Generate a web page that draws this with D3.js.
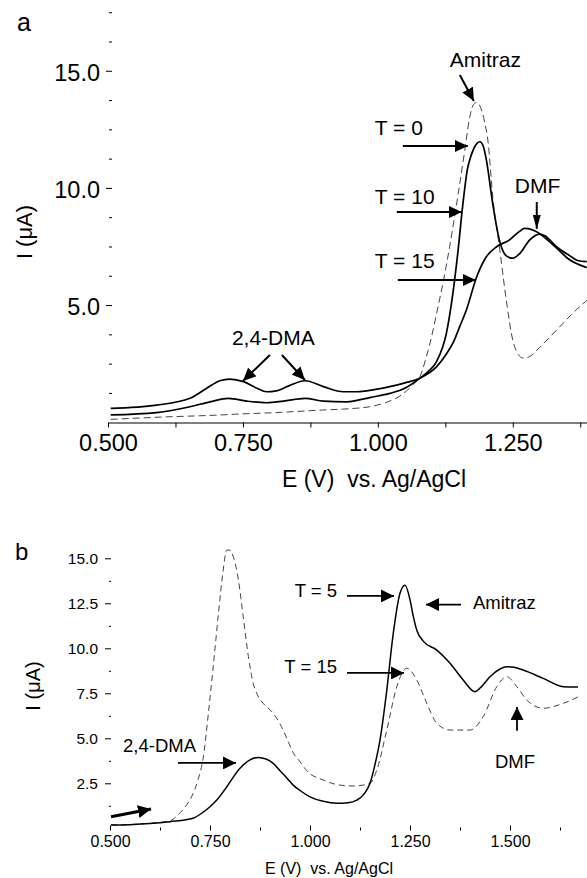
<!DOCTYPE html>
<html>
<head>
<meta charset="utf-8">
<script src="https://cdn.jsdelivr.net/npm/d3@7"></script>
<style>
  html, body { margin: 0; padding: 0; background: #fff; }
  svg { display: block; font-family: "Liberation Sans", Arial, Helvetica, sans-serif; }
</style>
</head>
<body>
<svg id="chart" width="587" height="878"></svg>
<script>
// ---------- Panel a: voltammograms at T = 0, 10, 15 (E in V, I in µA) ----------
const aT0 = [ // dashed
  [0.505,0.12],[0.60,0.22],[0.70,0.30],[0.744,0.35],[0.80,0.40],[0.898,0.52],[0.95,0.58],
  [0.985,0.66],[1.016,0.85],[1.046,1.2],[1.065,1.6],[1.078,1.95],[1.09,2.8],[1.10,3.7],
  [1.109,4.66],[1.122,6.1],[1.133,7.49],[1.148,9.62],[1.161,11.6],[1.170,13.0],[1.177,13.55],
  [1.183,13.65],[1.190,13.45],[1.197,12.9],[1.204,12.0],[1.213,9.6],[1.226,7.35],[1.238,5.2],
  [1.250,3.5],[1.260,2.9],[1.269,2.74],[1.281,2.8],[1.300,3.2],[1.331,3.93],[1.361,4.65],[1.387,5.2]
];
const aT10 = [
  [0.505,0.31],[0.59,0.41],[0.652,0.66],[0.689,0.87],[0.723,1.02],[0.757,0.90],[0.794,0.83],
  [0.825,0.90],[0.865,1.02],[0.899,0.90],[0.942,0.87],[0.961,0.93],[0.985,1.05],[1.022,1.23],
  [1.05,1.45],[1.078,1.88],[1.095,2.2],[1.109,2.6],[1.127,3.8],[1.139,5.5],[1.148,7.2],
  [1.157,9.2],[1.166,10.8],[1.173,11.4],[1.182,11.85],[1.189,11.97],[1.195,11.8],[1.201,11.2],
  [1.213,9.3],[1.226,7.7],[1.238,7.1],[1.250,7.0],[1.263,7.2],[1.281,7.77],[1.300,8.03],
  [1.310,7.95],[1.331,7.49],[1.356,7.1],[1.370,6.9],[1.387,6.85]
];
const aT15 = [
  [0.505,0.59],[0.59,0.73],[0.652,1.02],[0.683,1.45],[0.707,1.77],[0.726,1.84],[0.751,1.73],
  [0.776,1.45],[0.794,1.30],[0.812,1.34],[0.835,1.55],[0.865,1.77],[0.899,1.52],[0.936,1.30],
  [0.961,1.30],[0.979,1.34],[1.022,1.52],[1.05,1.68],[1.078,1.88],[1.109,2.37],[1.125,2.85],
  [1.139,3.37],[1.152,4.1],[1.164,4.79],[1.183,6.2],[1.201,7.06],[1.220,7.49],[1.244,7.78],
  [1.260,8.1],[1.272,8.27],[1.285,8.22],[1.294,8.13],[1.325,7.56],[1.356,6.92],[1.387,6.6]
];

// ---------- Panel b: voltammograms at T = 5 and T = 15 ----------
const bT5 = [ // solid
  [0.5025,0.18],[0.55,0.2],[0.6,0.26],[0.65,0.37],[0.708,0.56],[0.73,0.85],[0.75,1.2],
  [0.767,1.57],[0.792,2.31],[0.81,2.9],[0.825,3.33],[0.85,3.8],[0.871,3.94],[0.89,3.85],
  [0.908,3.61],[0.925,3.2],[0.942,2.8],[0.958,2.4],[0.975,2.1],[1.0,1.75],[1.033,1.5],
  [1.067,1.39],[1.095,1.42],[1.117,1.57],[1.135,1.9],[1.15,2.5],[1.162,3.5],[1.175,4.9],
  [1.192,7.68],[1.208,10.8],[1.225,13.06],[1.2375,13.5],[1.25,12.7],[1.258,11.8],[1.267,11.0],
  [1.283,10.4],[1.317,9.9],[1.35,9.17],[1.383,8.24],[1.4125,7.59],[1.43,7.9],[1.45,8.42],
  [1.475,8.85],[1.492,8.98],[1.51,8.95],[1.533,8.79],[1.583,8.33],[1.633,7.87],[1.67,7.85]
];
const bT15 = [ // dashed
  [0.5025,0.18],[0.6,0.28],[0.65,0.42],[0.67,0.75],[0.69,1.25],[0.705,1.8],[0.72,2.7],
  [0.733,3.9],[0.746,6.4],[0.758,8.98],[0.771,11.9],[0.782,14.17],[0.792,15.46],[0.800,15.45],
  [0.808,15.1],[0.821,13.8],[0.833,11.76],[0.846,9.53],[0.858,8.06],[0.870,7.35],[0.883,6.94],
  [0.908,6.39],[0.925,5.8],[0.942,5.0],[0.958,4.2],[0.975,3.7],[0.992,3.2],[1.033,2.68],
  [1.075,2.4],[1.11,2.35],[1.15,2.5],[1.167,3.24],[1.192,5.46],[1.217,7.87],[1.242,8.89],
  [1.267,8.24],[1.292,6.94],[1.317,5.83],[1.35,5.46],[1.4,5.46],[1.433,6.2],[1.467,7.87],
  [1.492,8.42],[1.517,7.87],[1.542,7.13],[1.583,6.67],[1.633,6.94],[1.671,7.31]
];

// ---------- Tick values ----------
const aXTicks = [0.5,0.625,0.75,0.875,1.0,1.125,1.25,1.375];
const aXLabelled = [0.5,0.75,1.0,1.25];
const aYMajor = [5,10,15];
const aYMinor = [1.25,2.5,3.75,6.25,7.5,8.75,11.25,12.5,13.75,16.25,17.5];
const bXMajor = [0.5,0.75,1.0,1.25,1.5];
const bXMinor = [0.625,0.875,1.125,1.375,1.625];
const bYMajor = [2.5,5,7.5,10,12.5,15];
const bYMinor = [1.25,3.75,6.25,8.75,11.25,13.75];

// ---------- Annotations (anchored in data units) ----------
const aLabels = [
  {text:"Amitraz", E:1.1333, I:15.16, anchor:"start"},
  {text:"T = 0",   E:0.9944, I:12.26, anchor:"start"},
  {text:"T = 10",  E:0.9944, I:9.31,  anchor:"start"},
  {text:"T = 15",  E:0.9944, I:6.58,  anchor:"start"},
  {text:"DMF",     E:1.2537, I:9.78,  anchor:"start"},
  {text:"2,4-DMA", E:0.7296, I:3.30,  anchor:"start"}
];
const aArrows = [
  {E0:1.1519, I0:14.82, E1:1.1778, I1:13.71},
  {E0:1.0463, I0:11.79, E1:1.1667, I1:11.79},
  {E0:1.0352, I0:8.97,  E1:1.1556, I1:8.97},
  {E0:1.0370, I0:6.07,  E1:1.1815, I1:6.07},
  {E0:1.2944, I0:9.40,  E1:1.2944, I1:8.25, slim:true},
  {E0:0.8000, I0:2.87,  E1:0.7500, I1:1.76},
  {E0:0.8222, I0:2.87,  E1:0.8648, I1:1.80}
];
const bLabels = [
  {text:"2,4-DMA", E:0.5325, I:4.24,  anchor:"start"},
  {text:"T = 5",   E:1.0675, I:12.85, anchor:"end"},
  {text:"T = 15",  E:1.0675, I:8.63,  anchor:"end"},
  {text:"Amitraz", E:1.4075, I:12.18, anchor:"start"},
  {text:"DMF",     E:1.4625, I:3.35,  anchor:"start"}
];
const bArrows = [
  {E0:0.670,  I0:3.63,  E1:0.815, I1:3.63},
  {E0:1.0925, I0:12.91, E1:1.210, I1:12.91},
  {E0:1.0925, I0:8.63,  E1:1.235, I1:8.63},
  {E0:1.3775, I0:12.43, E1:1.290, I1:12.43},
  {E0:1.5175, I0:5.42,  E1:1.5175, I1:6.74},
  {E0:0.5025, I0:0.64,  E1:0.6025, I1:1.07, thick:true}
];

const svg = d3.select("#chart");
const fmt = d3.format(".3f");
const fmt1 = d3.format(".1f");

// arrowhead markers
const defs = svg.append("defs");
function marker(id, len, half) {
  defs.append("marker")
    .attr("id", id).attr("markerUnits", "userSpaceOnUse")
    .attr("viewBox", `0 ${-half} ${len} ${2*half}`)
    .attr("markerWidth", len).attr("markerHeight", 2*half)
    .attr("refX", len).attr("refY", 0).attr("orient", "auto")
    .append("path").attr("d", `M0,${-half}L${len},0L0,${half}Z`).attr("fill", "#000");
}
marker("head", 13, 6);
marker("headSlim", 14, 4);
marker("headB", 13, 6.5);

// ================= Panel a =================
const xA = d3.scaleLinear().domain([0.5, 1.3875]).range([108, 587]);
const yA = d3.scaleLinear().domain([0, 17.5]).range([422.2, 12.2]);
const gA = svg.append("g");

gA.append("g").attr("transform", "translate(0,422.5)")
  .call(d3.axisBottom(xA).tickValues(aXTicks).tickSize(5).tickSizeOuter(0)
    .tickFormat(d => aXLabelled.includes(d) ? fmt(d) : ""))
  .call(g => g.select(".domain").attr("stroke-width", 1.2))
  .call(g => g.selectAll(".tick line").attr("stroke-width", 1))
  .call(g => g.selectAll("text").attr("y", 28.5).attr("dy", null)
    .attr("font-size", 23.5).attr("font-family", null).attr("fill", "#000"));

gA.append("g").attr("transform", "translate(112,0)")
  .call(d3.axisLeft(yA).tickValues(aYMinor).tickSize(3).tickFormat(""))
  .call(g => g.select(".domain").remove());
gA.append("g").attr("transform", "translate(112,0)")
  .call(d3.axisLeft(yA).tickValues(aYMajor).tickSize(6).tickPadding(6).tickFormat(fmt1))
  .call(g => g.select(".domain").remove())
  .call(g => g.selectAll("text").attr("font-size", 23.5).attr("font-family", null)
    .attr("fill", "#000").attr("dy", "0.4em"));

const lineA = d3.line().x(d => xA(d[0])).y(d => yA(d[1])).curve(d3.curveMonotoneX);
gA.append("path").datum(aT0).attr("d", lineA).attr("fill", "none")
  .attr("stroke", "#444").attr("stroke-width", 1).attr("stroke-dasharray", "7,4");
gA.append("path").datum(aT10).attr("d", lineA).attr("fill", "none")
  .attr("stroke", "#000").attr("stroke-width", 1.7);
gA.append("path").datum(aT15).attr("d", lineA).attr("fill", "none")
  .attr("stroke", "#000").attr("stroke-width", 1.7);

gA.selectAll("text.ann").data(aLabels).join("text").attr("class", "ann")
  .attr("x", d => xA(d.E)).attr("y", d => yA(d.I)).attr("text-anchor", d => d.anchor)
  .attr("font-size", 21).text(d => d.text);
gA.selectAll("line.arr").data(aArrows).join("line").attr("class", "arr")
  .attr("x1", d => xA(d.E0)).attr("y1", d => yA(d.I0))
  .attr("x2", d => xA(d.E1)).attr("y2", d => yA(d.I1))
  .attr("stroke", "#000").attr("stroke-width", 2)
  .attr("marker-end", d => d.slim ? "url(#headSlim)" : "url(#head)");

svg.append("text").attr("x", 17).attr("y", 31).attr("font-size", 25).text("a");
svg.append("text").attr("transform", "translate(32,232) rotate(-90)")
  .attr("text-anchor", "middle").attr("font-size", 22).text("I (μA)");
svg.append("text").attr("x", 374).attr("y", 487).attr("text-anchor", "middle")
  .attr("font-size", 23).attr("xml:space", "preserve").text("E (V)  vs. Ag/AgCl");

// ================= Panel b =================
const xB = d3.scaleLinear().domain([0.5, 1.6925]).range([110, 587]);
const yB = d3.scaleLinear().domain([0, 16]).range([828.3, 540.3]);
const gB = svg.append("g");

gB.append("g").attr("transform", "translate(0,825.5)")
  .call(d3.axisBottom(xB).tickValues(bXMajor).tickSize(5).tickFormat(fmt))
  .call(g => g.select(".domain").remove())
  .call(g => g.selectAll("text").attr("y", 21.5).attr("dy", null)
    .attr("font-size", 16).attr("font-family", null).attr("fill", "#000"));
gB.append("g").attr("transform", "translate(0,827.5)")
  .call(d3.axisBottom(xB).tickValues(bXMinor).tickSize(3).tickFormat(""))
  .call(g => g.select(".domain").remove());

gB.append("g").attr("transform", "translate(111,0)")
  .call(d3.axisLeft(yB).tickValues(bYMinor).tickSize(2).tickFormat(""))
  .call(g => g.select(".domain").remove());
gB.append("g").attr("transform", "translate(111,0)")
  .call(d3.axisLeft(yB).tickValues(bYMajor).tickSize(6).tickPadding(7).tickFormat(fmt1))
  .call(g => g.select(".domain").remove())
  .call(g => g.selectAll("text").attr("font-size", 15.5).attr("font-family", null)
    .attr("fill", "#000").attr("dy", "0.36em"));

const lineB = d3.line().x(d => xB(d[0])).y(d => yB(d[1])).curve(d3.curveMonotoneX);
gB.append("path").datum(bT15).attr("d", lineB).attr("fill", "none")
  .attr("stroke", "#444").attr("stroke-width", 1).attr("stroke-dasharray", "6,4");
gB.append("path").datum(bT5).attr("d", lineB).attr("fill", "none")
  .attr("stroke", "#000").attr("stroke-width", 1.5);

gB.selectAll("text.ann").data(bLabels).join("text").attr("class", "ann")
  .attr("x", d => xB(d.E)).attr("y", d => yB(d.I)).attr("text-anchor", d => d.anchor)
  .attr("font-size", 18.5).text(d => d.text);
gB.selectAll("line.arr").data(bArrows).join("line").attr("class", "arr")
  .attr("x1", d => xB(d.E0)).attr("y1", d => yB(d.I0))
  .attr("x2", d => xB(d.E1)).attr("y2", d => yB(d.I1))
  .attr("stroke", "#000").attr("stroke-width", d => d.thick ? 3 : 1.8)
  .attr("marker-end", "url(#headB)");

svg.append("text").attr("x", 15).attr("y", 560).attr("font-size", 24).text("b");
svg.append("text").attr("transform", "translate(40,686) rotate(-90)")
  .attr("text-anchor", "middle").attr("font-size", 20).text("I (μA)");
svg.append("text").attr("x", 329).attr("y", 874).attr("text-anchor", "middle")
  .attr("font-size", 16).attr("xml:space", "preserve").text("E (V)  vs. Ag/AgCl");
</script>
</body>
</html>
